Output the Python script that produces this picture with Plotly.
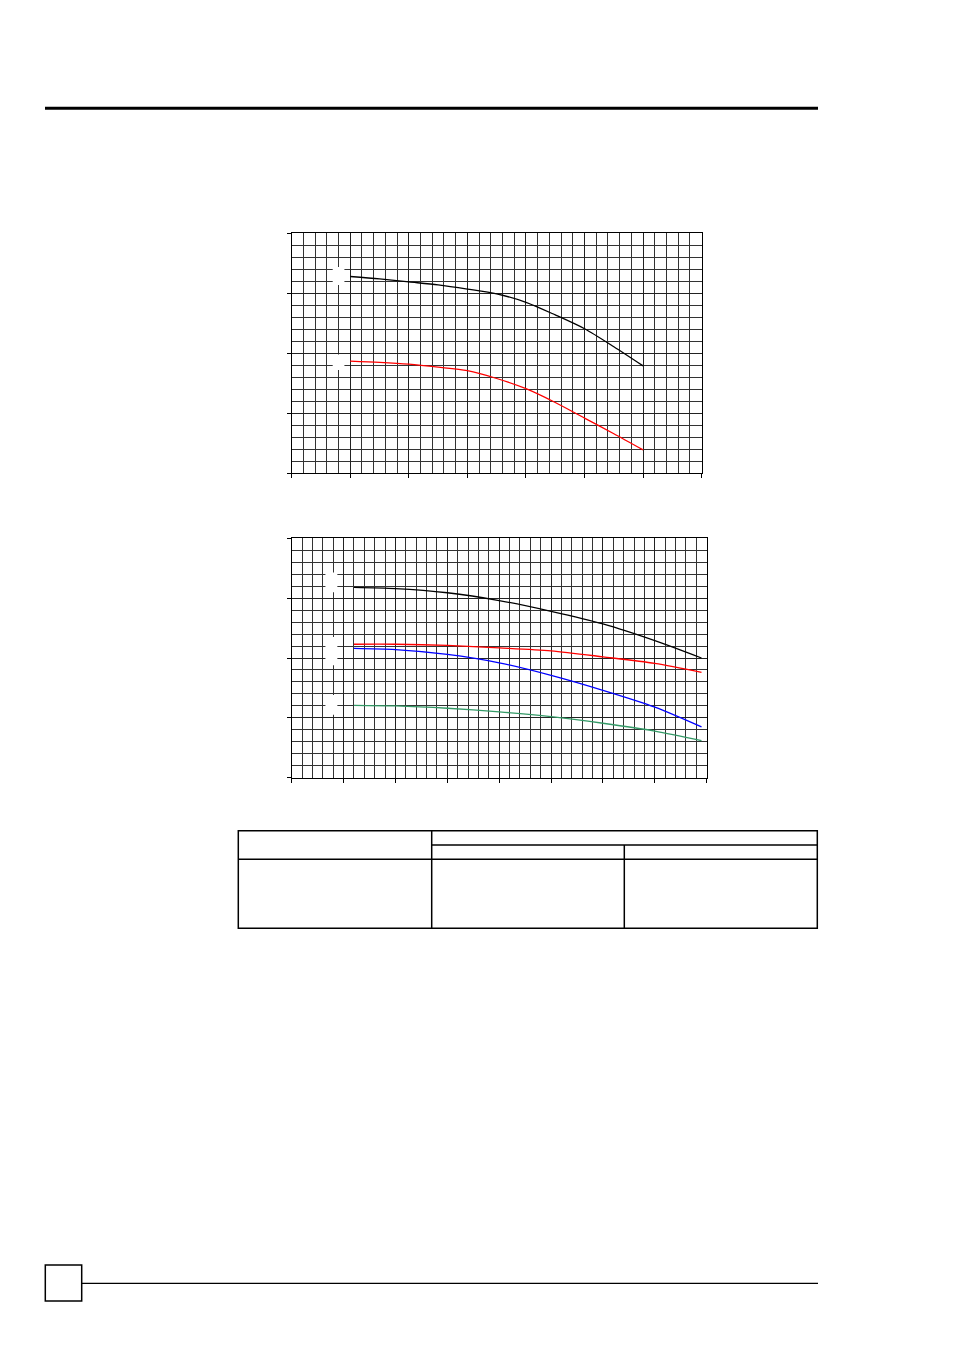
import plotly.graph_objects as go

# page is drawn with the browser's 8px body margin, so the figure is 8px smaller
OFF = 8
W, H = 954 - OFF, 1350 - OFF

# upper chart (two curves), x in major grid units
top_x = [1, 1.5, 2, 2.5, 3, 3.5, 4, 4.5, 5, 5.5, 6]
top_black = [3.28, 3.24, 3.19, 3.14, 3.07, 2.99, 2.85, 2.64, 2.41, 2.11, 1.79]
top_red = [1.87, 1.85, 1.82, 1.77, 1.71, 1.58, 1.41, 1.18, 0.92, 0.66, 0.39]

# lower chart (four curves)
low_x = [1.2, 2, 3, 4, 5, 6, 7, 7.9]
low_black = [3.18, 3.16, 3.09, 2.96, 2.78, 2.57, 2.29, 2.0]
low_red = [2.23, 2.23, 2.21, 2.17, 2.12, 2.02, 1.91, 1.76]
low_blue = [2.16, 2.14, 2.06, 1.92, 1.71, 1.46, 1.18, 0.85]
low_green = [1.21, 1.2, 1.16, 1.1, 1.02, 0.91, 0.78, 0.62]


def px(x):
    return (x - OFF) / W


def py(y):
    return 1 - (y - OFF) / H


fig = go.Figure()

fig.add_trace(go.Scatter(x=top_x, y=top_black, mode="lines",
                         line=dict(color="black", width=1.3, shape="spline", smoothing=0.8),
                         xaxis="x", yaxis="y"))
fig.add_trace(go.Scatter(x=top_x, y=top_red, mode="lines",
                         line=dict(color="red", width=1.3, shape="spline", smoothing=0.8),
                         xaxis="x", yaxis="y"))

for vals, col in [(low_black, "black"), (low_red, "red"), (low_blue, "blue"), (low_green, "#339966")]:
    fig.add_trace(go.Scatter(x=low_x, y=vals, mode="lines",
                             line=dict(color=col, width=1.3, shape="spline", smoothing=0.8),
                             xaxis="x2", yaxis="y2"))


def grid_axis(rng, dom, anchor):
    return dict(range=rng, domain=dom, anchor=anchor, dtick=1, tick0=0,
                showgrid=True, gridcolor="#222", gridwidth=1,
                minor=dict(dtick=0.2, showgrid=True, gridcolor="#333", gridwidth=1),
                showline=True, linecolor="black", linewidth=1, mirror=True,
                ticks="outside", ticklen=4, tickcolor="black", showticklabels=False,
                zeroline=False, fixedrange=True)


fig.update_layout(
    width=W, height=H, margin=dict(l=0, r=0, t=0, b=0),
    paper_bgcolor="white", plot_bgcolor="white", showlegend=False,
    xaxis=grid_axis([0, 7], [px(291.7), px(701.7)], "y"),
    yaxis=grid_axis([0, 4], [py(473.3), py(233.3)], "x"),
    xaxis2=grid_axis([0, 8], [px(291.7), px(706.7)], "y2"),
    yaxis2=grid_axis([0, 4], [py(777.7), py(538.3)], "x2"),
)

# white patches where curve labels sat
masks = [("x", "y", 0.7, 0.9, 3.14, 3.44), ("x", "y", 0.7, 0.9, 1.72, 1.98),
         ("x2", "y2", 0.65, 0.88, 3.1, 3.43), ("x2", "y2", 0.65, 0.88, 1.88, 2.35),
         ("x2", "y2", 0.65, 0.88, 1.05, 1.38)]
for xr, yr, x0, x1, y0, y1 in masks:
    fig.add_shape(type="rect", xref=xr, yref=yr, x0=x0, x1=x1, y0=y0, y1=y1,
                  fillcolor="white", line=dict(width=0), layer="above")


def hline(x0, x1, y, w=1.5):
    fig.add_shape(type="line", xref="paper", yref="paper", x0=px(x0), x1=px(x1), y0=py(y), y1=py(y),
                  line=dict(color="black", width=w))


def vline(x, y0, y1, w=1.5):
    fig.add_shape(type="line", xref="paper", yref="paper", x0=px(x), x1=px(x), y0=py(y0), y1=py(y1),
                  line=dict(color="black", width=w))


# header rule
hline(45, 818, 108.3, 3)

# table outline
fig.add_shape(type="rect", xref="paper", yref="paper", x0=px(238.3), x1=px(817.3), y0=py(928.3), y1=py(830.7),
              line=dict(color="black", width=1.5))
hline(431.7, 817.3, 845)
hline(238.3, 817.3, 859.3)
vline(431.7, 830.7, 928.3)
vline(624.3, 845, 928.3)

# footer
fig.add_shape(type="rect", xref="paper", yref="paper", x0=px(45.3), x1=px(81.7), y0=py(1301), y1=py(1265),
              line=dict(color="black", width=1.5))
hline(81.7, 818, 1283.3, 1.2)

fig.write_html("out.html")
